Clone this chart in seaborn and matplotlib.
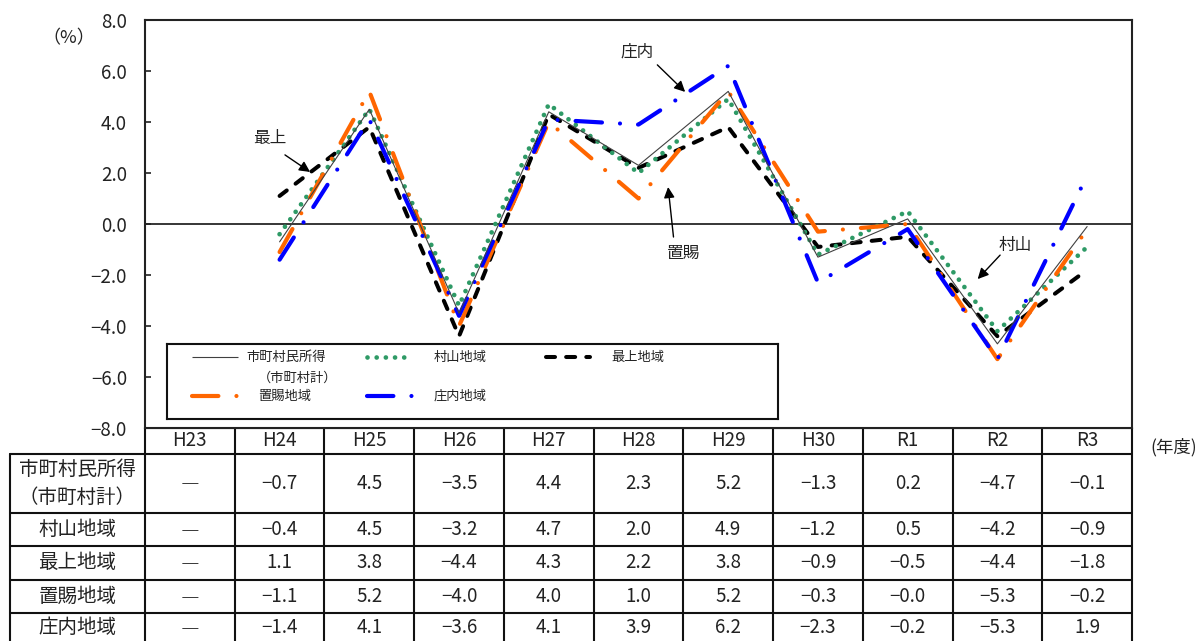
import numpy as np
import pandas as pd
import matplotlib
matplotlib.use("Agg")
import matplotlib.pyplot as plt
import seaborn as sns
from matplotlib.ticker import FuncFormatter

# ---------------- data ----------------
years = ["H23", "H24", "H25", "H26", "H27", "H28", "H29", "H30", "R1", "R2", "R3"]
total = [np.nan, -0.7, 4.5, -3.5, 4.4, 2.3, 5.2, -1.3, 0.2, -4.7, -0.1]
murayama = [np.nan, -0.4, 4.5, -3.2, 4.7, 2.0, 4.9, -1.2, 0.5, -4.2, -0.9]
mogami = [np.nan, 1.1, 3.8, -4.4, 4.3, 2.2, 3.8, -0.9, -0.5, -4.4, -1.8]
okitama = [np.nan, -1.1, 5.2, -4.0, 4.0, 1.0, 5.2, -0.3, -0.0, -5.3, -0.2]
shonai = [np.nan, -1.4, 4.1, -3.6, 4.1, 3.9, 6.2, -2.3, -0.2, -5.3, 1.9]
row_labels = ["市町村民所得\n（市町村計）", "村山地域", "最上地域", "置賜地域", "庄内地域"]
legend_labels = ["市町村民所得", "村山地域", "最上地域", "置賜地域", "庄内地域"]
yticks = [-8, -6, -4, -2, 0, 2, 4, 6, 8]

sns.set_theme(style="white")
plt.rcParams["font.family"] = ["Noto Sans CJK JP", "DejaVu Sans"]
plt.rcParams["lines.scale_dashes"] = False
plt.rcParams["axes.unicode_minus"] = True

W, H = 1201, 641
fig = plt.figure(figsize=(W / 100, H / 100), dpi=100)

# plot area in pixels
PX0, PX1, PY0, PY1 = 145, 1132, 20, 428

# table axes (whole figure, pixel coordinates)
tab = fig.add_axes([0, 0, 1, 1])
tab.set_xlim(0, W)
tab.set_ylim(H, 0)
tab.axis("off")

ax = fig.add_axes([PX0 / W, 1 - PY1 / H, (PX1 - PX0) / W, (PY1 - PY0) / H])
ax.set_facecolor("white")

styles = [
    dict(color="#404040", linewidth=0.8, linestyle="-", zorder=6),
    dict(color="#2e9a66", linewidth=3.4, linestyle=(0, (0.01, 6.6)), zorder=2),
    dict(color="black", linewidth=2.9, linestyle=(0, (6.5, 8.0)), zorder=1),
    dict(color="#ff6600", linewidth=3.0, linestyle=(0, (19.0, 13.0, 0.01, 13.0)), zorder=3),
    dict(color="#0000ff", linewidth=3.0, linestyle=(0, (19.0, 13.0, 0.01, 13.0)), zorder=4),
]
series = [total, murayama, mogami, okitama, shonai]

xpos = np.arange(len(years))
for vals, st in zip(series, styles):
    df = pd.DataFrame({"x": xpos, "y": vals})
    sns.lineplot(data=df, x="x", y="y", ax=ax, estimator=None, errorbar=None,
                 legend=False, dash_capstyle="round", solid_capstyle="round", **st)

ax.axhline(0, color="black", linewidth=1.1, zorder=0)
ax.set_xlim(-0.5, len(years) - 0.5)
ax.set_ylim(-8, 8)
ax.set_xticks([])
ax.set_yticks(yticks)
ax.yaxis.set_major_formatter(FuncFormatter(lambda v, p: f"{v:.1f}".replace("-", "−")))
ax.tick_params(axis="y", direction="in", length=4, width=1.2, pad=13, labelsize=13.5,
               colors="#222222", left=True)
ax.set_xlabel("")
ax.set_ylabel("")
for sp in ax.spines.values():
    sp.set_visible(True)
    sp.set_linewidth(1.5)
    sp.set_color("#222222")

# annotations
ann_font = dict(fontsize=12, color="#222222", ha="center", va="center")
arrow = dict(arrowstyle="-|>", color="black", lw=1.0, mutation_scale=16, shrinkA=0, shrinkB=0)
ax.text(0.89, 3.37, "最上", **ann_font)
ax.annotate("", xy=(1.34, 2.04), xytext=(1.06, 2.71), arrowprops=arrow)
ax.text(4.98, 6.75, "庄内", **ann_font)
ax.annotate("", xy=(5.52, 5.18), xytext=(5.21, 6.24), arrowprops=arrow)
ax.text(5.50, -1.14, "置賜", **ann_font)
ax.annotate("", xy=(5.33, 1.45), xytext=(5.39, -0.51), arrowprops=arrow)
ax.text(9.20, -0.86, "村山", **ann_font)
ax.annotate("", xy=(8.78, -2.16), xytext=(9.03, -1.22), arrowprops=arrow)

fig.text(69 / W, 1 - 38 / H, "（%）", fontsize=13, ha="center", va="center", color="#222222")
fig.text(1174 / W, 1 - 447 / H, "(年度)", fontsize=12.5, ha="center", va="center", color="#222222")

# ---------------- table ----------------
lw_t = 1.5
tc = "#111111"
colw = (PX1 - PX0) / len(years)
col_edges = [PX0 + i * colw for i in range(len(years) + 1)]
row_edges = [454, 513, 546, 580, 613, 645]
LX0 = 10
for xe in col_edges:
    tab.plot([xe, xe], [PY1, 660], color=tc, lw=lw_t, solid_capstyle="butt")
tab.plot([LX0, LX0], [row_edges[0], 660], color=tc, lw=lw_t)
tab.plot([PX0, PX1], [PY1, PY1], color=tc, lw=lw_t)
for ye in row_edges:
    tab.plot([LX0, PX1], [ye, ye], color=tc, lw=lw_t)

tfont = dict(fontsize=13.5, color="#222222", ha="center", va="center")
for i, yr in enumerate(years):
    tab.text(PX0 + (i + 0.5) * colw, 441, yr, **tfont)

for r, (lab, vals) in enumerate(zip(row_labels, series)):
    yc = (row_edges[r] + row_edges[r + 1]) / 2
    if r == len(row_labels) - 1:
        yc -= 1.5
    tab.text((LX0 + PX0) / 2, yc, lab, linespacing=1.4, fontsize=14, color="#222222",
             ha="center", va="center")
    for i, v in enumerate(vals):
        xc = PX0 + (i + 0.5) * colw
        if np.isnan(v):
            tab.text(xc, yc + (2 if r == 0 else 3), "―", **tfont)
        else:
            tab.text(xc, yc, f"{v:.1f}".replace("-", "−"), **tfont)

# ---------------- legend ----------------
LB = (167, 344, 778, 419)
leg = fig.add_axes([LB[0] / W, 1 - LB[3] / H, (LB[2] - LB[0]) / W, (LB[3] - LB[1]) / H])
leg.set_zorder(10)
leg.set_facecolor("white")
leg.set_xlim(LB[0], LB[2])
leg.set_ylim(LB[3], LB[1])
leg.set_xticks([])
leg.set_yticks([])
for sp in leg.spines.values():
    sp.set_visible(True)
    sp.set_linewidth(1.5)
    sp.set_color("#111111")

lfont = dict(fontsize=9.5, color="#222222", ha="left", va="center")
entries = [
    (0, 192, 238, 357, 246),
    (1, 367, 412, 357, 434),
    (2, 546, 590, 357, 611),
    (3, 192, 240, 396, 258),
    (4, 367, 415, 396, 434),
]
for idx, xa, xb, yy, xt in entries:
    st = dict(styles[idx])
    st.pop("zorder")
    leg.plot([xa, xb], [yy, yy], dash_capstyle="round", solid_capstyle="butt", **st)
    leg.text(xt, yy, legend_labels[idx], **lfont)
leg.text(258, 378, "（市町村計）", **lfont)

fig.savefig("out.png", dpi=100)
